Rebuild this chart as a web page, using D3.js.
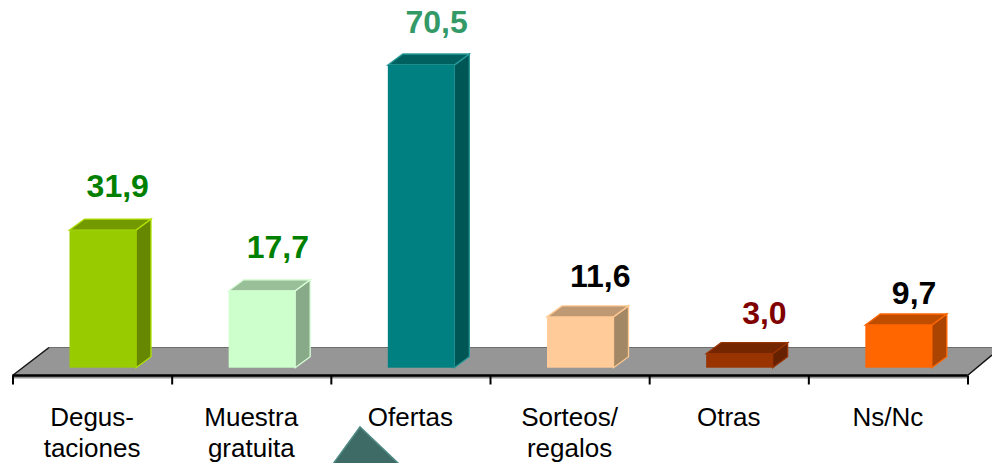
<!DOCTYPE html>
<html><head><meta charset="utf-8">
<script src="https://cdn.jsdelivr.net/npm/d3@7/dist/d3.min.js"></script>
<style>html,body{margin:0;padding:0;background:#fff;overflow:hidden}svg{display:block}text{font-family:"Liberation Sans",Arial,sans-serif}</style>
</head><body><svg id="c" width="992" height="463"></svg>
<script>
const categories=["Degus-|taciones","Muestra|gratuita","Ofertas","Sorteos/|regalos","Otras","Ns/Nc"];
const values=[31.9,17.7,70.5,11.6,3.0,9.7];
const valueLabels=["31,9","17,7","70,5","11,6","3,0","9,7"];
const frontColors=["#99cc00","#ccffcc","#008080","#ffcc99","#993300","#ff6600"];
const topColors=["#739900","#99bf99","#006060","#bf9973","#732600","#bf4d00"];
const sideColors=["#668800","#88aa88","#005555","#a38866","#662200","#aa4400"];
const edgeColors=["#b0e000","#d8ffd8","#2a9a9a","#ffc890","#993300","#ff6600"];
const labelColors=["#008000","#008000","#339966","#000000","#800000","#000000"];
// hand-placed label nudges (px), as in the original slide
const labelNudgeX=[0,1,0.5,5,10,0.5];
const labelNudgeY=[-1,-1,0,2,2,11];

const svg=d3.select("#c");
const barW=66.5, barOff=57, dx=15, dy=11;
const x=d3.scaleBand().domain(categories).range([12.5,967.5]);
const y=d3.scaleLinear().domain([0,70.5]).range([366.5,65]);
const tickScale=d3.scaleLinear().domain([0,6]).range([12.5,967.5]);
const frontY=375.5, backY=347.5;

svg.append("path")
 .attr("d",`M12.5,${frontY+3}L12.5,${frontY}L49,${backY}L992,${backY}L992,355L967.5,${frontY}L967.5,${frontY+3}Z`)
 .attr("fill","#969696");
svg.append("path").attr("d",`M49,${backY}H992`).attr("stroke","#6e6e6e").attr("stroke-width",1).attr("fill","none");
svg.append("path").attr("d",`M12.5,${frontY}L49,${backY}`).attr("stroke","#111").attr("stroke-width",1.5).attr("fill","none");
svg.append("path").attr("d",`M967.5,${frontY}L992,355`).attr("stroke","#111").attr("stroke-width",1.5).attr("fill","none");

const g=svg.selectAll("g.bar").data(categories).join("g").attr("class","bar");
g.each(function(c,i){
  const s=d3.select(this), l=x(c)+barOff, r=l+barW, t=y(values[i]), b=y(0)+1.2;
  s.append("path").attr("d",`M${r},${t}L${r+dx},${t-dy}V${b-dy}L${r},${b}Z`)
   .attr("fill",sideColors[i]).attr("stroke",edgeColors[i]).attr("stroke-width",1.3);
  s.append("path").attr("d",`M${l},${t}L${l+dx},${t-dy}H${r+dx}L${r},${t}Z`)
   .attr("fill",topColors[i]).attr("stroke",edgeColors[i]).attr("stroke-width",1.3);
  s.append("rect").attr("x",l).attr("y",t).attr("width",barW).attr("height",b-t).attr("fill",frontColors[i]);
});

const axis=d3.axisBottom(tickScale).ticks(6).tickSize(9).tickFormat("");
const ag=svg.append("g").attr("transform",`translate(0,${frontY})`).call(axis);
ag.select(".domain").attr("stroke","#000").attr("stroke-width",2.5).attr("d","M12.5,0H967.5");
ag.selectAll(".tick line").attr("stroke","#000").attr("stroke-width",2);

svg.selectAll("text.v").data(categories).join("text").attr("class","v")
 .attr("x",(c,i)=>x(c)+barOff+barW/2+15+labelNudgeX[i])
 .attr("y",(c,i)=>y(values[i])-dy-21+labelNudgeY[i])
 .attr("text-anchor","middle").attr("font-weight","bold").attr("font-size",32)
 .attr("fill",(c,i)=>labelColors[i]).text((c,i)=>valueLabels[i]);

svg.selectAll("text.c").data(categories).join("text").attr("class","c")
 .attr("text-anchor","middle").attr("font-size",26).attr("fill","#000")
 .each(function(c){
   c.split("|").forEach((ln,j)=>d3.select(this).append("tspan")
     .attr("x",x(c)+x.bandwidth()/2).attr("y",426+j*31).text(ln));
 });

svg.append("path").attr("d","M333,464L360,427L399,464Z")
 .attr("fill","#3f6b66").attr("stroke","#4f8a85").attr("stroke-width",1.5);
</script></body></html>
